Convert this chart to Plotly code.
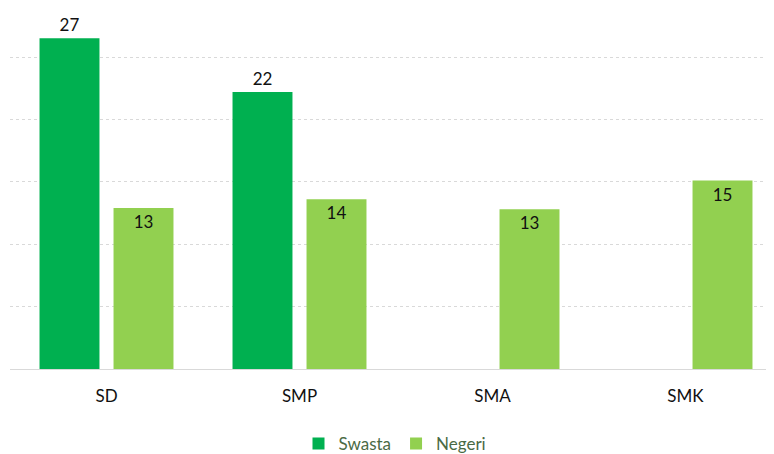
import plotly.graph_objects as go

categories = ["SD", "SMP", "SMA", "SMK"]
swasta = [26.5, 22.2, None, None]
negeri = [12.9, 13.6, 12.8, 15.1]
series_names = ["Swasta", "Negeri"]
colors = ["#00B050", "#92D050"]

FONT = "Lato, Roboto, sans-serif"

fig = go.Figure()
fig.add_trace(go.Bar(
    x=categories, y=swasta, name=series_names[0],
    marker=dict(color=colors[0], line=dict(width=0)),
    texttemplate="%{y:.0f}", textposition="outside",
    textfont=dict(size=17, color="#111111", family=FONT),
    cliponaxis=False,
))
fig.add_trace(go.Bar(
    x=categories, y=negeri, name=series_names[1],
    marker=dict(color=colors[1], line=dict(width=0)),
    texttemplate="%{y:.0f}", textposition="inside", insidetextanchor="end",
    textfont=dict(size=17, color="#111111", family=FONT),
    cliponaxis=False,
))

fig.update_layout(
    width=774, height=454,
    margin=dict(l=2, r=0, t=0, b=93, autoexpand=False),
    paper_bgcolor="white", plot_bgcolor="white",
    barmode="group", bargap=0.233, bargroupgap=0.19,
    font=dict(family=FONT, size=17, color="#111111"),
    showlegend=True,
    legend=dict(orientation="h", x=0.5, xanchor="center", xref="container",
                y=0.04, yanchor="middle", yref="container",
                font=dict(size=17, color="#4a6a45", family=FONT),
                itemwidth=30, traceorder="normal"),
    uniformtext=dict(mode=False),
)
fig.update_xaxes(
    range=[-0.5, 3.5], showgrid=False, showline=True, linecolor="#d9d9d9", linewidth=1,
    ticks="", tickfont=dict(size=17, color="#111111", family=FONT), ticklabelstandoff=12,
)
fig.update_yaxes(
    range=[0, 28.93], showgrid=True, gridcolor="#d9d9d9", griddash="dot", gridwidth=1,
    dtick=5, showticklabels=False, zeroline=False, ticks="",
)

fig.write_html("out.html")
